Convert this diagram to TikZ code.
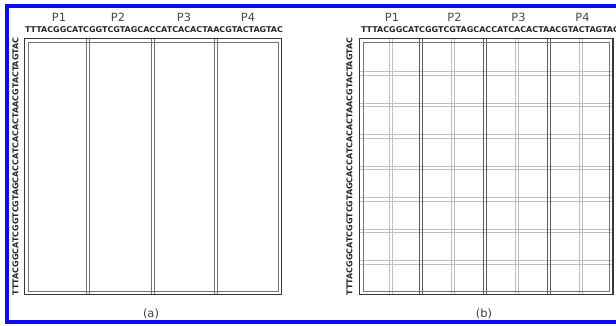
\documentclass[tikz,border=0pt]{standalone}
\usepackage{fontspec}
\setmainfont{DejaVu Sans}
\definecolor{frameblue}{RGB}{12,12,245}
\definecolor{seqgray}{RGB}{40,40,40}
\newcommand{\seqtext}{TTTACGGCATCGGTCGTAGCACCATCACACTAACGTACTAGTAC}
\newcommand{\seqbox}{\resizebox{193.5pt}{!}{\bfseries\seqtext}}
\newcommand{\vdbl}[4]{\draw[#1] ({#2-1.5},#3) -- ({#2-1.5},#4); \draw[#1] ({#2+1.5},#3) -- ({#2+1.5},#4);}
\newcommand{\hdbl}[4]{\draw[#1] (#3,{#2-1.6}) -- (#4,{#2-1.6}); \draw[#1] (#3,{#2+1.6}) -- (#4,{#2+1.6});}
\begin{document}
\begin{tikzpicture}[x=0.75pt,y=-0.75pt,
  plabel/.style={font=\fontsize{8.5}{9}\selectfont, text=black!72, inner sep=0},
  seqlabel/.style={inner sep=0, text=seqgray},
  caption/.style={font=\fontsize{8.6}{10}\selectfont, text=black!75, inner sep=0},
  frameout/.style={draw=black!78, line width=1pt},
  framein/.style={draw=black!55, line width=0.6pt},
  diva/.style={draw=black!55, line width=0.6pt},
  divb/.style={draw=black!65, line width=0.6pt},
  gridb/.style={draw=black!25, line width=0.5pt}]
\useasboundingbox (0,0) rectangle (616,325);
\clip (0,0) rectangle (616,325);
\fill[white] (0,0) rectangle (616,325);

% ---------- panel (a) ----------
\foreach \x in {87.5,153,215.5} {\vdbl{diva}{\x}{38.5}{294.5}}
\draw[framein] (28,42) rectangle (278,291);
\draw[frameout] (24.5,38.5) rectangle (281.5,294.5);
\node[plabel] (pa1) at (59,17) {P1};
\node[plabel] (pa2) at (118,17) {P2};
\node[plabel] (pa3) at (184,17) {P3};
\node[plabel] (pa4) at (248,17) {P4};
\node[seqlabel] (sa) at (154,30) {\seqbox};
\node[seqlabel, rotate=90] (va) at (15.5,166.5) {\seqbox};
\node[caption] (capa) at (151,314) {(a)};

% ---------- panel (b) ----------
\foreach \y in {73.3,104.8,136.3,167.8,199.3,230.8,262.3} {\hdbl{gridb}{\y}{360}{613}}
\foreach \x in {390.5,453,517,581} {\vdbl{gridb}{\x}{38.5}{294.5}}
\foreach \x in {421,485,549} {\vdbl{divb}{\x}{38.5}{294.5}}
\draw[framein] (363,42) rectangle (609.5,291);
\draw[frameout] (359.5,38.5) rectangle (613,294.5);
\node[plabel] (pb1) at (392,17) {P1};
\node[plabel] (pb2) at (454.5,17) {P2};
\node[plabel] (pb3) at (518.5,17) {P3};
\node[plabel] (pb4) at (582.5,17) {P4};
\node[seqlabel] (sb) at (490,30) {\seqbox};
\node[seqlabel, rotate=90] (vb) at (349.5,166.5) {\seqbox};
\node[caption] (capb) at (484,314) {(b)};

% ---------- blue frame ----------
\draw[frameblue, line width=3pt] (700,6) -- (7,6) -- (7,322.3) -- (700,322.3);
\end{tikzpicture}
\end{document}
